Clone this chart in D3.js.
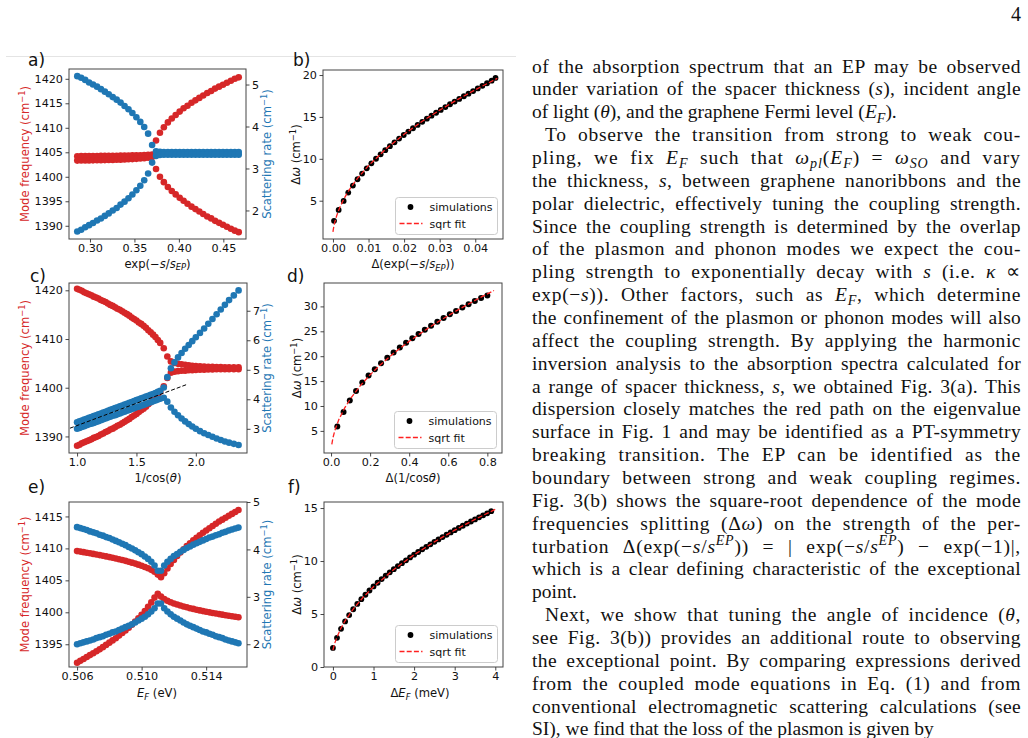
<!DOCTYPE html>
<html><head><meta charset="utf-8">
<script src="https://cdn.jsdelivr.net/npm/d3@7"></script>
<style>body{margin:0;background:#fff}svg{display:block}</style>
</head><body>
<svg id="c" width="1028" height="738"></svg>
<script>
// ---------- panel a ----------
const aX=[0.2857,0.2901,0.2946,0.2990,0.3034,0.3079,0.3123,0.3167,0.3211,0.3256,0.3300,0.3344,0.3389,0.3433,0.3477,0.3522,0.3566,0.3610,0.3654,0.3699,0.3743,0.3787,0.3831,0.3876,0.3920,0.3964,0.4009,0.4053,0.4097,0.4142,0.4186,0.4230,0.4274,0.4319,0.4363,0.4407,0.4452,0.4496,0.4540,0.4585,0.4629,0.4673];
const aFreqUpper=[1404.20,1404.21,1404.22,1404.23,1404.24,1404.25,1404.26,1404.27,1404.28,1404.29,1404.30,1404.31,1404.33,1404.34,1404.36,1404.38,1404.40,1404.43,1404.47,1404.55,1407.4,1409.0,1410.1,1411.1,1411.9,1412.6,1413.3,1414.0,1414.5,1415.1,1415.6,1416.1,1416.6,1417.1,1417.5,1418.0,1418.4,1418.8,1419.2,1419.6,1420.0,1420.3];
const aFreqLower=[1403.30,1403.31,1403.32,1403.33,1403.35,1403.36,1403.38,1403.40,1403.42,1403.44,1403.47,1403.50,1403.53,1403.57,1403.61,1403.66,1403.72,1403.79,1403.88,1404.05,1401.6,1400.0,1398.9,1397.9,1397.1,1396.4,1395.7,1395.1,1394.5,1393.9,1393.4,1392.9,1392.4,1391.9,1391.5,1391.0,1390.6,1390.2,1389.8,1389.4,1389.0,1388.7];
const aLossUpper=[5.20,5.16,5.11,5.05,5.00,4.95,4.89,4.83,4.77,4.70,4.64,4.57,4.49,4.41,4.32,4.22,4.11,3.99,3.83,3.56,3.41,3.40,3.39,3.39,3.39,3.39,3.39,3.39,3.39,3.39,3.39,3.39,3.39,3.39,3.39,3.39,3.39,3.39,3.39,3.39,3.39,3.39];
const aLossLower=[1.50,1.54,1.60,1.65,1.70,1.76,1.81,1.87,1.93,2.00,2.06,2.14,2.21,2.29,2.38,2.48,2.59,2.72,2.88,3.14,3.30,3.32,3.33,3.33,3.33,3.33,3.33,3.33,3.33,3.33,3.33,3.33,3.33,3.33,3.33,3.33,3.33,3.33,3.33,3.33,3.33,3.33];
const aXTicks=[0.30,0.35,0.40,0.45], aYLTicks=[1390,1395,1400,1405,1410,1415,1420], aYRTicks=[2,3,4,5];

// ---------- panel b ----------
const bX=[0.0003,0.0016,0.0030,0.0043,0.0056,0.0069,0.0082,0.0095,0.0108,0.0121,0.0134,0.0147,0.0160,0.0173,0.0186,0.0199,0.0212,0.0225,0.0238,0.0251,0.0264,0.0277,0.0290,0.0303,0.0316,0.0329,0.0342,0.0355,0.0368,0.0381,0.0394,0.0407,0.0420,0.0433,0.0446,0.0457];
const bY=[2.6,3.9,4.98,5.97,6.81,7.56,8.24,8.87,9.46,10.01,10.53,11.03,11.51,11.97,12.41,12.84,13.25,13.65,14.04,14.42,14.79,15.15,15.50,15.84,16.18,16.51,16.83,17.15,17.47,17.78,18.09,18.40,18.71,19.02,19.33,19.65];
const bFitX=[0,0.0001,0.0002,0.0003,0.0005,0.001,0.0015,0.002,0.003,0.004,0.005,0.007,0.01,0.015,0.02,0.025,0.03,0.035,0.04,0.0462];
const bFitY=[1.29,1.58,1.82,2.03,2.41,3.15,3.75,4.27,5.15,5.90,6.56,7.72,9.19,11.22,12.93,14.45,15.81,17.07,18.24,19.60];
const bXTicks=[0,0.01,0.02,0.03,0.04], bYTicks=[5,10,15,20];

// ---------- panel c ----------
const cX=[1.00,1.02,1.04,1.06,1.08,1.10,1.12,1.14,1.16,1.18,1.20,1.22,1.24,1.26,1.28,1.30,1.32,1.34,1.36,1.38,1.40,1.42,1.44,1.46,1.48,1.50,1.52,1.54,1.56,1.58,1.60,1.62,1.64,1.66,1.68,1.70,1.73,1.76,1.79,1.82,1.85,1.88,1.91,1.94,1.97,2.00,2.035,2.07,2.105,2.14,2.175,2.21,2.245,2.28,2.32,2.36];
const cFreqUpper=[1420.3,1420.1,1419.9,1419.6,1419.4,1419.2,1419.0,1418.7,1418.5,1418.3,1418.0,1417.8,1417.6,1417.3,1417.0,1416.8,1416.5,1416.2,1416.0,1415.7,1415.4,1415.1,1414.8,1414.4,1414.1,1413.8,1413.4,1413.1,1412.7,1412.3,1411.8,1411.4,1410.9,1410.4,1409.8,1409.2,1408.1,1406.4,1405.4,1405.1,1404.9,1404.8,1404.7,1404.6,1404.5,1404.45,1404.4,1404.35,1404.3,1404.3,1404.25,1404.25,1404.2,1404.2,1404.2,1404.2];
const cFreqLower=[1388.1,1388.3,1388.6,1388.8,1389.0,1389.2,1389.4,1389.7,1389.9,1390.1,1390.4,1390.6,1390.9,1391.1,1391.4,1391.6,1391.9,1392.2,1392.4,1392.7,1393.0,1393.3,1393.6,1394.0,1394.3,1394.6,1395.0,1395.4,1395.7,1396.1,1396.6,1397.0,1397.5,1398.0,1398.6,1399.2,1400.3,1402.0,1403.1,1403.3,1403.4,1403.5,1403.5,1403.6,1403.6,1403.65,1403.7,1403.7,1403.75,1403.75,1403.8,1403.8,1403.8,1403.8,1403.8,1403.8];
const cLossUpper=[3.22,3.25,3.28,3.31,3.34,3.37,3.40,3.43,3.46,3.49,3.52,3.55,3.58,3.61,3.64,3.67,3.70,3.73,3.76,3.79,3.82,3.85,3.88,3.91,3.94,3.97,4.00,4.03,4.06,4.09,4.12,4.15,4.18,4.21,4.25,4.29,4.40,4.75,5.05,5.25,5.42,5.57,5.71,5.84,5.97,6.10,6.25,6.40,6.56,6.72,6.88,7.04,7.20,7.36,7.52,7.69];
const cLossLower=[3.00,3.03,3.06,3.09,3.12,3.15,3.17,3.20,3.23,3.26,3.29,3.32,3.35,3.38,3.41,3.44,3.46,3.49,3.52,3.55,3.58,3.61,3.64,3.67,3.70,3.73,3.75,3.78,3.81,3.84,3.87,3.90,3.93,3.96,3.99,4.02,4.05,3.92,3.72,3.58,3.46,3.35,3.25,3.16,3.08,3.00,2.92,2.85,2.79,2.73,2.67,2.62,2.57,2.53,2.49,2.45];
const cDashX=[0.94,1.93], cDashY=[3.02,4.51];
const cXTicks=[1.0,1.5,2.0], cYLTicks=[1390,1400,1410,1420], cYRTicks=[3,4,5,6,7];

// ---------- panel d ----------
const dX=[0.032,0.064,0.096,0.128,0.16,0.192,0.224,0.256,0.288,0.32,0.352,0.384,0.416,0.448,0.48,0.512,0.544,0.576,0.608,0.64,0.672,0.704,0.736,0.768,0.8];
const dY=[5.9,8.8,11.1,13.0,14.7,16.1,17.4,18.6,19.7,20.75,21.75,22.7,23.6,24.45,25.3,26.1,26.9,27.65,28.4,29.1,29.8,30.45,31.1,31.7,32.2];
const dFitX=[0.004,0.01,0.02,0.04,0.07,0.1,0.15,0.2,0.25,0.3,0.35,0.4,0.45,0.5,0.55,0.6,0.65,0.7,0.77,0.834];
const dFitY=[2.30,3.64,5.14,7.27,9.62,11.49,14.08,16.26,18.18,19.91,21.50,22.99,24.38,25.70,26.96,28.16,29.31,30.41,31.90,33.20];
const dXTicks=[0,0.2,0.4,0.6,0.8], dYTicks=[5,10,15,20,25,30];

// ---------- panel e ----------
const eX=[0.5060,0.5062,0.5064,0.5066,0.5068,0.5070,0.5072,0.5074,0.5076,0.5078,0.5080,0.5082,0.5084,0.5086,0.5088,0.5090,0.5092,0.5094,0.5096,0.5098,0.5100,0.5102,0.5104,0.5106,0.5108,0.5110,0.5112,0.5114,0.5116,0.5118,0.5120,0.5122,0.5124,0.5126,0.5128,0.5130,0.5132,0.5134,0.5136,0.5138,0.5140,0.5142,0.5144,0.5146,0.5148,0.5150,0.5152,0.5154,0.5156,0.5158,0.5160];
const eFreqUpper=[1409.58,1409.50,1409.41,1409.32,1409.23,1409.14,1409.05,1408.95,1408.85,1408.75,1408.64,1408.53,1408.42,1408.30,1408.18,1408.05,1407.92,1407.77,1407.62,1407.46,1407.29,1407.10,1406.89,1406.64,1406.34,1405.90,1405.5,1406.1,1406.85,1407.55,1408.2,1408.8,1409.35,1409.85,1410.35,1410.8,1411.25,1411.65,1412.05,1412.45,1412.8,1413.15,1413.5,1413.85,1414.2,1414.5,1414.8,1415.1,1415.4,1415.7,1416.0];
const eFreqLower=[1392.1,1392.4,1392.7,1393.0,1393.3,1393.6,1393.9,1394.2,1394.55,1394.9,1395.25,1395.6,1395.95,1396.35,1396.75,1397.15,1397.6,1398.05,1398.55,1399.05,1399.6,1400.2,1400.85,1401.55,1402.3,1402.9,1402.46,1402.06,1401.79,1401.57,1401.38,1401.21,1401.06,1400.91,1400.78,1400.64,1400.53,1400.41,1400.30,1400.19,1400.09,1399.99,1399.90,1399.81,1399.72,1399.63,1399.54,1399.46,1399.38,1399.30,1399.22];
const eLossUpper=[4.47,4.45,4.43,4.41,4.38,4.36,4.34,4.31,4.29,4.26,4.24,4.21,4.18,4.15,4.12,4.09,4.05,4.02,3.98,3.94,3.90,3.85,3.80,3.74,3.66,3.55,3.55,3.66,3.74,3.80,3.86,3.90,3.95,3.99,4.03,4.06,4.10,4.13,4.16,4.19,4.22,4.25,4.27,4.30,4.32,4.35,4.37,4.40,4.42,4.44,4.46];
const eLossLower=[2.00,2.02,2.04,2.06,2.08,2.10,2.13,2.15,2.17,2.20,2.22,2.25,2.27,2.30,2.33,2.36,2.39,2.42,2.46,2.50,2.54,2.58,2.63,2.69,2.76,2.86,2.86,2.76,2.69,2.63,2.58,2.54,2.50,2.46,2.42,2.39,2.36,2.33,2.30,2.27,2.25,2.22,2.20,2.17,2.15,2.13,2.10,2.08,2.06,2.04,2.02];
const eXTicks=[0.506,0.510,0.514], eYLTicks=[1395,1400,1405,1410,1415], eYRTicks=[2,3,4,5];

// ---------- panel f ----------
const fX=[0,0.1,0.2,0.3,0.4,0.5,0.6,0.7,0.8,0.9,1.0,1.1,1.2,1.3,1.4,1.5,1.6,1.7,1.8,1.9,2.0,2.1,2.2,2.3,2.4,2.5,2.6,2.7,2.8,2.9,3.0,3.1,3.2,3.3,3.4,3.5,3.6,3.7,3.8,3.9];
const fY=[1.8,2.75,3.6,4.3,4.9,5.45,5.95,6.4,6.82,7.22,7.6,7.95,8.3,8.62,8.93,9.23,9.52,9.8,10.07,10.34,10.6,10.85,11.1,11.34,11.58,11.81,12.04,12.26,12.48,12.7,12.91,13.12,13.33,13.53,13.73,13.93,14.12,14.31,14.5,14.7];
const fFitX=[0,0.02,0.05,0.1,0.2,0.3,0.5,0.75,1,1.5,2,2.5,3,3.5,4.0];
const fFitY=[1.60,1.91,2.30,2.83,3.68,4.36,5.47,6.60,7.57,9.20,10.59,11.81,12.91,13.93,14.88];
const fXTicks=[0,1,2,3,4], fYTicks=[0,5,10,15];

const legendLabels=["simulations","sqrt fit"];

// ---------- text column ----------
const textLines=[
 {s:"of the absorption spectrum that an EP may be observed",j:1},
 {s:"under variation of the spacer thickness (*s*), incident angle",j:1},
 {s:"of light (*θ*), and the graphene Fermi level (*E*_{*F*}).",j:0},
 {s:"To observe the transition from strong to weak cou-",j:1,ind:1},
 {s:"pling, we fix *E*_{*F*} such that *ω*_{*pl*}(*E*_{*F*}) = *ω*_{*SO*} and vary",j:1},
 {s:"the thickness, *s*, between graphene nanoribbons and the",j:1},
 {s:"polar dielectric, effectively tuning the coupling strength.",j:1},
 {s:"Since the coupling strength is determined by the overlap",j:1},
 {s:"of the plasmon and phonon modes we expect the cou-",j:1},
 {s:"pling strength to exponentially decay with *s* (i.e. *κ* ∝",j:1},
 {s:"exp(−*s*)). Other factors, such as *E*_{*F*}, which determine",j:1},
 {s:"the confinement of the plasmon or phonon modes will also",j:1},
 {s:"affect the coupling strength. By applying the harmonic",j:1},
 {s:"inversion analysis to the absorption spectra calculated for",j:1},
 {s:"a range of spacer thickness, *s*, we obtained Fig. 3(a). This",j:1},
 {s:"dispersion closely matches the red path on the eigenvalue",j:1},
 {s:"surface in Fig. 1 and may be identified as a PT-symmetry",j:1},
 {s:"breaking transition. The EP can be identified as the",j:1},
 {s:"boundary between strong and weak coupling regimes.",j:1},
 {s:"Fig. 3(b) shows the square-root dependence of the mode",j:1},
 {s:"frequencies splitting (Δ*ω*) on the strength of the per-",j:1},
 {s:"turbation Δ(exp(−*s*/*s*^{*EP*})) = | exp(−*s*/*s*^{*EP*}) − exp(−1)|,",j:1},
 {s:"which is a clear defining characteristic of the exceptional",j:1},
 {s:"point.",j:0},
 {s:"Next, we show that tuning the angle of incidence (*θ*,",j:1,ind:1},
 {s:"see Fig. 3(b)) provides an additional route to observing",j:1},
 {s:"the exceptional point. By comparing expressions derived",j:1},
 {s:"from the coupled mode equations in Eq. (1) and from",j:1},
 {s:"conventional electromagnetic scattering calculations (see",j:1},
 {s:"SI), we find that the loss of the plasmon is given by",j:0}
];

// ================= drawing =================
const svg=d3.select('#c');
const RED='#d62728', BLUE='#1f77b4', SANS='"DejaVu Sans", sans-serif', SERIF='"Liberation Serif", serif';
const TICK_FS=11.2, LAB_FS=11.6;

function addRich(sel,str,fs){
  const segs=[];let it=false,mode=null,buf='';
  const flush=()=>{if(buf){segs.push({t:buf,it,mode});buf='';}};
  for(let i=0;i<str.length;i++){
    const c=str[i];
    if(c==='*'){flush();it=!it;continue;}
    if((c==='_'||c==='^')&&str[i+1]==='{'){flush();mode=c;i++;continue;}
    if(c==='}'&&mode){flush();mode=null;continue;}
    buf+=c;
  }
  flush();
  let cur=0;
  segs.forEach(s=>{
    const target=s.mode==='_'?fs*0.22:s.mode==='^'?-fs*0.38:0;
    const sp=sel.append('tspan').text(s.t);
    if(target!==cur){sp.attr('dy',target-cur);cur=target;}
    if(s.it)sp.attr('font-style','italic');
    if(s.mode)sp.attr('font-size',fs*0.72);
  });
}
function label(x,y,str,o){
  o=o||{};
  const fs=o.fs||LAB_FS;
  const t=svg.append('text').attr('font-family',o.font||SANS).attr('font-size',fs)
    .attr('fill',o.fill||'#111').attr('text-anchor',o.anchor||'middle');
  if(o.rot){t.attr('transform',`translate(${x},${y}) rotate(-90)`);}
  else t.attr('x',x).attr('y',y);
  addRich(t,str,fs);
  return t;
}
function styleAx(g){
  g.select('.domain').remove();
  g.attr('font-family',SANS).attr('font-size',TICK_FS);
  g.selectAll('.tick line').attr('stroke','#333').attr('stroke-width',0.9);
  g.selectAll('.tick text').attr('fill','#111');
}
function frame(b){
  svg.append('rect').attr('x',b.x0).attr('y',b.y0).attr('width',b.x1-b.x0).attr('height',b.y1-b.y0)
    .attr('fill','none').attr('stroke','#444').attr('stroke-width',1);
}
function axB(x,b,ticks,fmt){const g=svg.append('g').attr('transform',`translate(0,${b.y1})`).call(d3.axisBottom(x).tickValues(ticks).tickFormat(fmt).tickSize(3.5).tickPadding(2));styleAx(g);}
function axL(y,b,ticks,fmt){const g=svg.append('g').attr('transform',`translate(${b.x0},0)`).call(d3.axisLeft(y).tickValues(ticks).tickFormat(fmt).tickSize(3.5).tickPadding(2.5));styleAx(g);}
function axR(y,b,ticks,fmt){const g=svg.append('g').attr('transform',`translate(${b.x1},0)`).call(d3.axisRight(y).tickValues(ticks).tickFormat(fmt).tickSize(3.5).tickPadding(2.5));styleAx(g);}
function dots(xs,ys,x,y,color,r){
  svg.append('g').selectAll('circle').data(xs).join('circle')
    .attr('cx',(d)=>x(d)).attr('cy',(d,i)=>y(ys[i])).attr('r',r).attr('fill',color);
}
function dline(xs,ys,x,y,color,w,dash){
  svg.append('path').datum(xs).attr('fill','none').attr('stroke',color).attr('stroke-width',w)
    .attr('stroke-dasharray',dash).attr('d',d3.line().x(d=>x(d)).y((d,i)=>y(ys[i])));
}
function legend(b){
  const w=102,h=37,lx=b.x1-5.5-w,ly=b.y1-4.5-h;
  svg.append('rect').attr('x',lx).attr('y',ly).attr('width',w).attr('height',h).attr('rx',3)
    .attr('fill','#fff').attr('fill-opacity',0.85).attr('stroke','#ccc').attr('stroke-width',1);
  svg.append('circle').attr('cx',lx+15).attr('cy',ly+9.5).attr('r',2.9).attr('fill','#000');
  svg.append('line').attr('x1',lx+4).attr('x2',lx+27).attr('y1',ly+26).attr('y2',ly+26)
    .attr('stroke','#ff2020').attr('stroke-width',1.3).attr('stroke-dasharray','5,2.2');
  label(lx+34,ly+13.5,legendLabels[0],{anchor:'start',fs:11});
  label(lx+34,ly+30,legendLabels[1],{anchor:'start',fs:11});
}
const fI=d3.format('d');

// separator line and page number
svg.append('line').attr('x1',6).attr('x2',516).attr('y1',56.5).attr('y2',56.5).attr('stroke','#e4e4e4').attr('stroke-width',1);
label(1021,21,"4",{font:SERIF,fs:20,anchor:'end'});

// ---- a ----
(function(){
  const b={x0:69,x1:246,y0:69,y1:239};
  const x=d3.scaleLinear().domain([0.2764,0.4755]).range([b.x0,b.x1]);
  const yl=d3.scaleLinear().domain([1387.3,1422.0]).range([b.y1,b.y0]);
  const yr=d3.scaleLinear().domain([1.32,5.37]).range([b.y1,b.y0]);
  dots(aX,aFreqUpper,x,yl,RED,3.3);dots(aX,aFreqLower,x,yl,RED,3.3);
  dots(aX,aLossUpper,x,yr,BLUE,3.3);dots(aX,aLossLower,x,yr,BLUE,3.3);
  frame(b);
  axB(x,b,aXTicks,d3.format('.2f'));axL(yl,b,aYLTicks,fI);axR(yr,b,aYRTicks,fI);
  label(157.5,267.5,"exp(−*s*/*s*_{*EP*})");
  label(29,154,"Mode frequency (cm^{−1})",{rot:1,fill:RED});
  label(271,154,"Scattering rate (cm^{−1})",{rot:1,fill:BLUE});
  label(28,66,"a)",{fs:17,anchor:'start'});
})();
// ---- b ----
(function(){
  const b={x0:323,x1:503,y0:70,y1:239};
  const x=d3.scaleLinear().domain([-0.0028,0.0478]).range([b.x0,b.x1]);
  const y=d3.scaleLinear().domain([0.43,20.6]).range([b.y1,b.y0]);
  dots(bX,bY,x,y,'#000',2.9);
  dline(bFitX,bFitY,x,y,'#ff2020',1.3,'5,2.2');
  frame(b);
  axB(x,b,bXTicks,d3.format('.2f'));axL(y,b,bYTicks,fI);
  label(413,268,"Δ(exp(−*s*/*s*_{*EP*}))");
  label(300,154.5,"Δ*ω* (cm^{−1})",{rot:1});
  legend(b);
  label(293,66,"b)",{fs:17,anchor:'start'});
})();
// ---- c ----
(function(){
  const b={x0:69,x1:247,y0:283,y1:453};
  const x=d3.scaleLinear().domain([0.932,2.431]).range([b.x0,b.x1]);
  const yl=d3.scaleLinear().domain([1386.6,1421.5]).range([b.y1,b.y0]);
  const yr=d3.scaleLinear().domain([2.18,7.94]).range([b.y1,b.y0]);
  dots(cX,cFreqUpper,x,yl,RED,3.3);dots(cX,cFreqLower,x,yl,RED,3.3);
  dots(cX,cLossUpper,x,yr,BLUE,3.3);dots(cX,cLossLower,x,yr,BLUE,3.3);
  dline(cDashX,cDashY,x,yr,'#000',1,'4,2');
  frame(b);
  axB(x,b,cXTicks,d3.format('.1f'));axL(yl,b,cYLTicks,fI);axR(yr,b,cYRTicks,fI);
  label(158,482,"1/cos(*θ*)");
  label(29,368,"Mode frequency (cm^{−1})",{rot:1,fill:RED});
  label(271,368,"Scattering rate (cm^{−1})",{rot:1,fill:BLUE});
  label(30,282,"c)",{fs:17,anchor:'start'});
})();
// ---- d ----
(function(){
  const b={x0:324,x1:502,y0:283,y1:453};
  const x=d3.scaleLinear().domain([-0.036,0.875]).range([b.x0,b.x1]);
  const y=d3.scaleLinear().domain([0.56,34.7]).range([b.y1,b.y0]);
  dots(dX,dY,x,y,'#000',3.0);
  dline(dFitX,dFitY,x,y,'#ff2020',1.3,'5,2.2');
  frame(b);
  axB(x,b,dXTicks,d3.format('.1f'));axL(y,b,dYTicks,fI);
  label(413,482,"Δ(1/cos*θ*)");
  label(301,368,"Δ*ω* (cm^{−1})",{rot:1});
  legend(b);
  label(287,282,"d)",{fs:17,anchor:'start'});
})();
// ---- e ----
(function(){
  const b={x0:69,x1:247,y0:502,y1:667};
  const x=d3.scaleLinear().domain([0.5055,0.51653]).range([b.x0,b.x1]);
  const yl=d3.scaleLinear().domain([1391.44,1417.26]).range([b.y1,b.y0]);
  const yr=d3.scaleLinear().domain([1.52,5.0]).range([b.y1,b.y0]);
  dots(eX,eFreqUpper,x,yl,RED,3.3);dots(eX,eFreqLower,x,yl,RED,3.3);
  dots(eX,eLossUpper,x,yr,BLUE,3.3);dots(eX,eLossLower,x,yr,BLUE,3.3);
  frame(b);
  axB(x,b,eXTicks,d3.format('.3f'));axL(yl,b,eYLTicks,fI);axR(yr,b,eYRTicks,fI);
  label(157,697,"*E*_{*F*} (eV)");
  label(29,584.5,"Mode frequency (cm^{−1})",{rot:1,fill:RED});
  label(271,584.5,"Scattering rate (cm^{−1})",{rot:1,fill:BLUE});
  label(28,493,"e)",{fs:17,anchor:'start'});
})();
// ---- f ----
(function(){
  const b={x0:324,x1:503,y0:502,y1:667};
  const x=d3.scaleLinear().domain([-0.22,4.19]).range([b.x0,b.x1]);
  const y=d3.scaleLinear().domain([0,15.57]).range([b.y1,b.y0]);
  dots(fX,fY,x,y,'#000',2.9);
  dline(fFitX,fFitY,x,y,'#ff2020',1.3,'5,2.2');
  frame(b);
  axB(x,b,fXTicks,fI);axL(y,b,fYTicks,fI);
  label(420,697,"Δ*E*_{*F*} (meV)");
  label(301,584.5,"Δ*ω* (cm^{−1})",{rot:1});
  legend(b);
  label(288,493,"f)",{fs:17,anchor:'start'});
})();

// ---- text column ----
const T_LEFT=532,T_RIGHT=1021,T_BASE=72.5,T_STEP=22.86,T_FS=19.5,T_IND=13;
textLines.forEach((ln,i)=>{
  const x0=T_LEFT+(ln.ind?T_IND:0);
  const t=svg.append('text').attr('x',x0).attr('y',T_BASE+i*T_STEP).attr('font-family',SERIF)
    .attr('font-size',T_FS).attr('fill','#111');
  addRich(t,ln.s,T_FS);
  if(ln.j){
    const plain=ln.s.replace(/\*|[_^]\{|\}/g,'');
    const nSp=(plain.match(/ /g)||[]).length;
    const nCh=plain.length;
    const target=T_RIGHT-x0;
    const w=t.node().getComputedTextLength();
    const extra=target-w;
    const ls=extra*0.45/nCh;
    t.style('letter-spacing',ls+'px');
    const w2=t.node().getComputedTextLength();
    const ws=(target-w2)/Math.max(1,nSp);
    t.style('word-spacing',ws+'px');
  }
});
</script>
</body></html>
